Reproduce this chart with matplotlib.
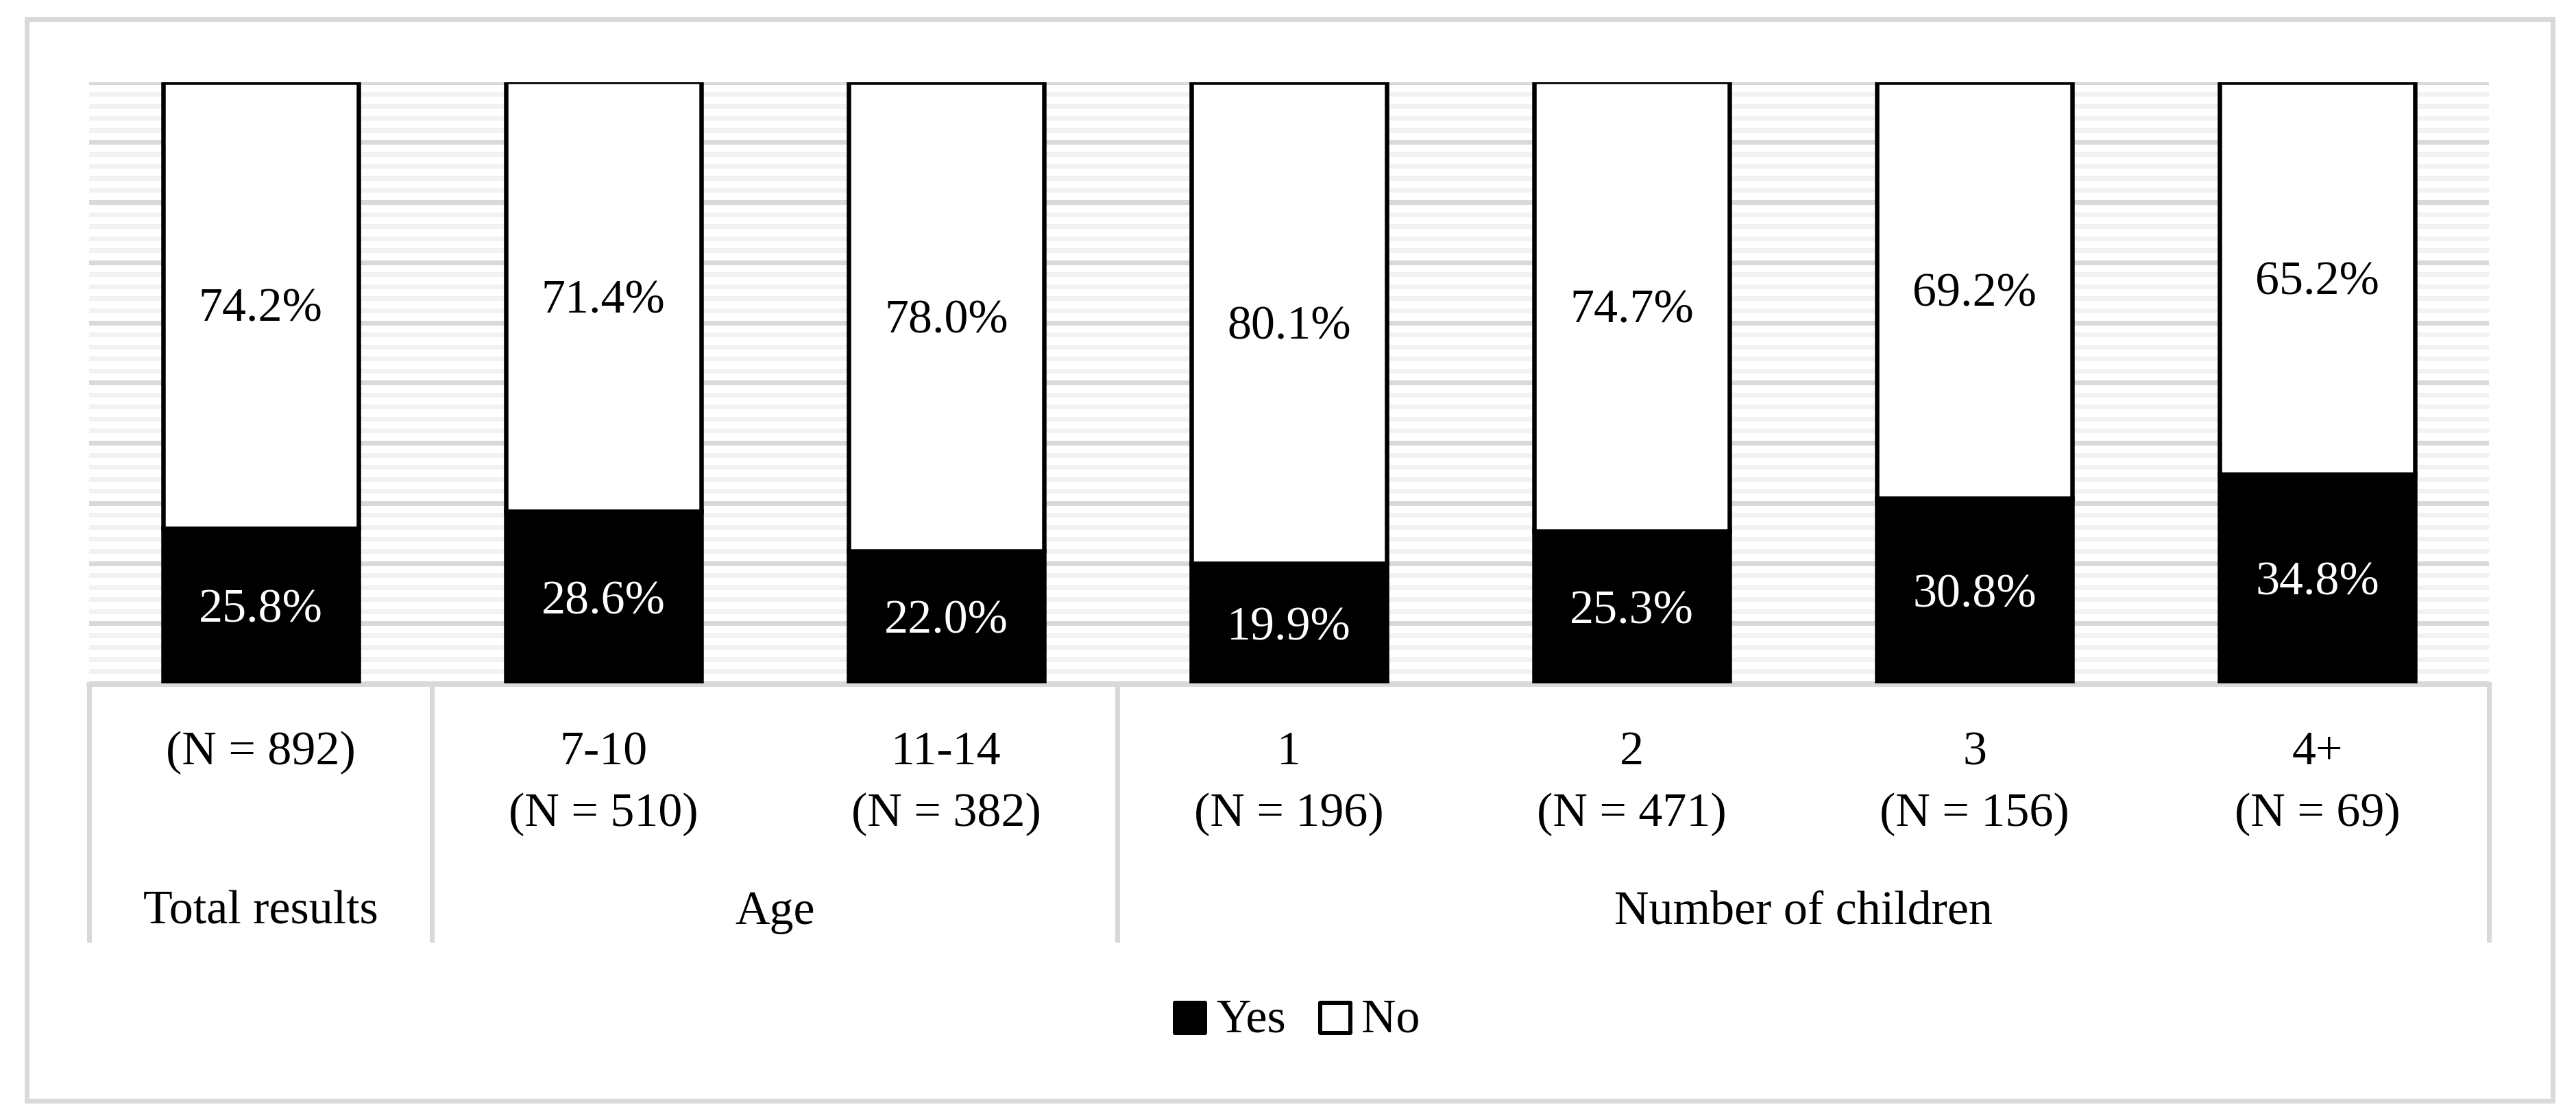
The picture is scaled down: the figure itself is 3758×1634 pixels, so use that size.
import matplotlib
matplotlib.use("Agg")
import matplotlib.pyplot as plt
from matplotlib.patches import Rectangle
from matplotlib.transforms import blended_transform_factory
import numpy as np

# ---- data ----
categories = ["", "7-10", "11-14", "1", "2", "3", "4+"]
sample_sizes = [892, 510, 382, 196, 471, 156, 69]
yes_pct = [25.8, 28.6, 22.0, 19.9, 25.3, 30.8, 34.8]
no_pct = [74.2, 71.4, 78.0, 80.1, 74.7, 69.2, 65.2]
groups = ["Total results", "Age", "Number of children"]
group_spans = [(0, 0), (1, 2), (3, 6)]
series_names = ["Yes", "No"]

W, H = 3758, 1634
DPI = 300
FS = 16.8
GRID = "#d9d9d9"
MINOR = "#f2f2f2"
px = 72.0 / DPI  # points per pixel

plt.rcParams['font.family'] = ['Liberation Serif', 'DejaVu Serif']

fig = plt.figure(figsize=(W / DPI, H / DPI), dpi=DPI)
fig.patch.set_facecolor("white")

# outer border
fig.patches.append(Rectangle((38.5 / W, 1 - 1605.5 / H), (3723.5 - 38.5) / W, (1605.5 - 27.5) / H,
                             transform=fig.transFigure, fill=False, edgecolor=GRID,
                             linewidth=7 * px, zorder=0))

left, right, top, bottom = 130, 3631, 119.5, 997
ax = fig.add_axes([left / W, 1 - bottom / H, (right - left) / W, (bottom - top) / H])
ax.set_xlim(-0.5, len(categories) - 0.5)
ax.set_ylim(0, 100)

# gridlines
ax.set_yticks(np.arange(0, 101, 10))
ax.set_yticks([v for v in range(0, 101, 2) if v % 10 != 0], minor=True)
ax.grid(axis="y", which="major", color=GRID, linewidth=7 * px, zorder=0)
ax.grid(axis="y", which="minor", color=MINOR, linewidth=7 * px, zorder=0)
ax.set_axisbelow(True)
ax.tick_params(which="both", length=0, labelleft=False, labelbottom=False)
for s in ax.spines.values():
    s.set_visible(False)
ax.set_xticks([])

x = np.arange(len(categories))
bw = 0.57
ax.bar(x, yes_pct, width=bw, color="black", edgecolor="black", linewidth=6.5 * px, zorder=3)
ax.bar(x, no_pct, bottom=yes_pct, width=bw, color="white", edgecolor="black",
       linewidth=6.5 * px, zorder=3)

# data labels: digits vertically centred in each segment
half_digit = 23.5 * px
for xi, y, n in zip(x, yes_pct, no_pct):
    ax.annotate(f"{y:.1f}%", (xi, y / 2), xytext=(0, -half_digit), textcoords="offset points",
                ha="center", va="baseline", color="white", fontsize=FS, zorder=4)
    ax.annotate(f"{n:.1f}%", (xi, y + n / 2), xytext=(0, -half_digit), textcoords="offset points",
                ha="center", va="baseline", color="black", fontsize=FS, zorder=4)

# category axis lines
axis_y = 998
sep_bottom = 1375
tr = blended_transform_factory(ax.transData, fig.transFigure)
ax.plot([-0.5 - 4 / 500, len(categories) - 0.5 + 4 / 500], [1 - axis_y / H] * 2,
        transform=tr, color=GRID, linewidth=7 * px, clip_on=False, solid_capstyle="butt", zorder=2)
bounds = [group_spans[0][0] - 0.5] + [e + 0.5 for (_, e) in group_spans]
for b in bounds:
    ax.plot([b, b], [1 - axis_y / H, 1 - sep_bottom / H], transform=tr,
            color=GRID, linewidth=7 * px, clip_on=False, solid_capstyle="butt", zorder=2)

line1_base = 1 - 1115 / H
line2_base = 1 - 1205 / H
group_base = 1 - 1348 / H
for xi, c, n in zip(x, categories, sample_sizes):
    if c:
        ax.text(xi, line1_base, c, transform=tr, ha="center", va="baseline", fontsize=FS)
        ax.text(xi, line2_base, f"(N = {n})", transform=tr, ha="center", va="baseline", fontsize=FS)
    else:
        ax.text(xi, line1_base, f"(N = {n})", transform=tr, ha="center", va="baseline", fontsize=FS)
for g, (s, e) in zip(groups, group_spans):
    ax.text((s + e) / 2, group_base, g, transform=tr, ha="center", va="baseline", fontsize=FS)

# legend (manual)
sq = 44
leg_items = [(series_names[0], "black", 1714), (series_names[1], "white", 1926)]
for name, fc, x0 in leg_items:
    fig.patches.append(Rectangle((x0 / W, 1 - 1507 / H), sq / W, sq / H, transform=fig.transFigure,
                                 facecolor=fc, edgecolor="black", linewidth=6 * px,
                                 joinstyle="round", zorder=5))
    fig.text((x0 + sq + 16) / W, 1 - 1505 / H, name, ha="left", va="baseline", fontsize=FS)

fig.savefig("out.png", dpi=DPI, facecolor="white")
